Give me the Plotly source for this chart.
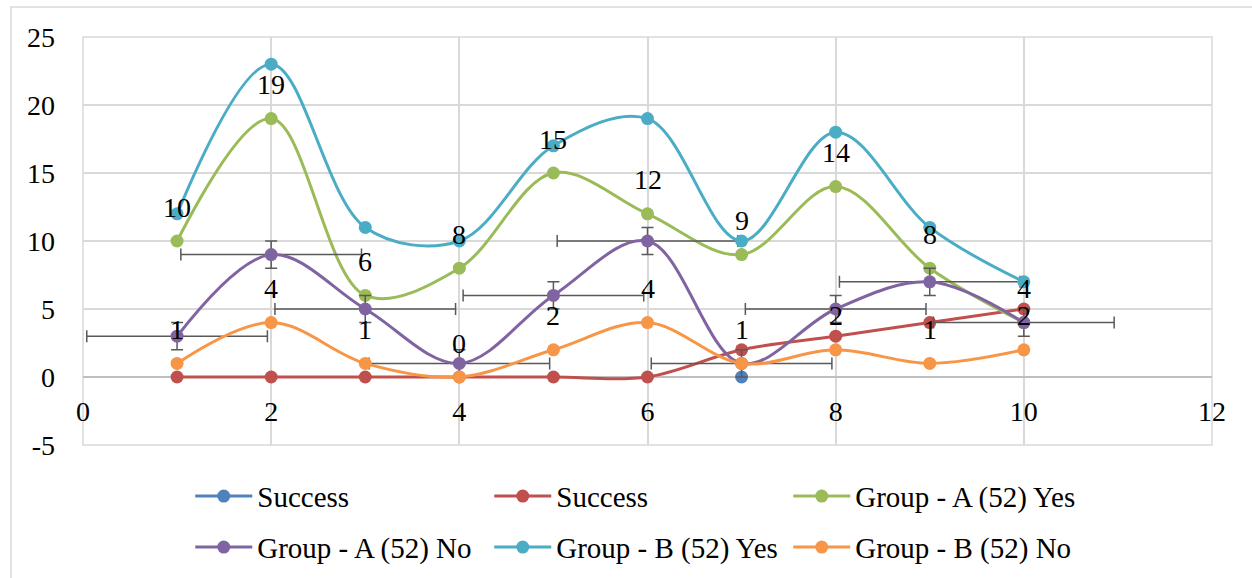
import plotly.graph_objects as go

# ---- data ----
x_vals = [1, 2, 3, 4, 5, 6, 7, 8, 9, 10]
success_blue_x = [7]
success_blue_y = [0]
success_red = [0, 0, 0, 0, 0, 0, 2, 3, 4, 5]
group_a_yes = [10, 19, 6, 8, 15, 12, 9, 14, 8, 4]
group_a_no = [3, 9, 5, 1, 6, 10, 1, 5, 7, 4]
group_b_yes = [12, 23, 11, 10, 17, 19, 10, 18, 11, 7]
group_b_no = [1, 4, 1, 0, 2, 4, 1, 2, 1, 2]
a_no_err_y = [1] * 10
a_no_err_x = [0.96] * 10
x_ticks = [0, 2, 4, 6, 8, 10, 12]
y_ticks = [-5, 0, 5, 10, 15, 20, 25]

FONT = "Liberation Serif"
GRID = "#d9d9d9"

fig = go.Figure()


def add_series(name, xs, ys, color, legend, **kw):
    fig.add_trace(go.Scatter(
        x=xs, y=ys, name=name, mode="lines+markers",
        line=dict(color=color, width=3, shape="spline", smoothing=1),
        marker=dict(color=color, size=13),
        legend=legend, **kw))


add_series("Success", success_blue_x, success_blue_y, "#4F81BD", "legend")
add_series("Success", x_vals, success_red, "#C0504D", "legend")
add_series("Group - A (52) Yes", x_vals, group_a_yes, "#9BBB59", "legend")
add_series("Group - A (52) No", x_vals, group_a_no, "#8064A2", "legend2",
           error_y=dict(type="data", array=a_no_err_y, color="#595959", thickness=1.5, width=6),
           error_x=dict(type="data", array=a_no_err_x, color="#595959", thickness=1.5, width=6))
add_series("Group - B (52) Yes", x_vals, group_b_yes, "#4BACC6", "legend2")
add_series("Group - B (52) No", x_vals, group_b_no, "#F79646", "legend2")

# data labels
for xv, yv in zip(x_vals, group_a_yes):
    fig.add_annotation(x=xv, y=yv, text=str(yv), showarrow=False, yshift=34,
                       font=dict(family=FONT, size=28, color="black"))
for xv, yv in zip(x_vals, group_b_no):
    fig.add_annotation(x=xv, y=yv, text=str(yv), showarrow=False, yshift=34,
                       font=dict(family=FONT, size=28, color="black"))

# plot area border and outer chart border
fig.add_shape(type="rect", xref="paper", yref="paper", x0=0, x1=1, y0=0, y1=1,
              line=dict(color=GRID, width=1.5), layer="below")
fig.add_shape(type="rect", xref="paper", yref="paper", x0=-0.0638, x1=1.05, y0=-0.36, y1=1.0735,
              line=dict(color=GRID, width=1.5), layer="below")

legend_common = dict(orientation="h", xanchor="left", yanchor="top",
                     font=dict(family=FONT, size=29, color="black"),
                     entrywidth=227, entrywidthmode="pixels", itemwidth=57,
                     bgcolor="rgba(0,0,0,0)", borderwidth=0)

fig.update_layout(
    width=1252, height=578,
    margin=dict(l=83, r=40, t=37, b=133, autoexpand=False),
    paper_bgcolor="white", plot_bgcolor="white",
    font=dict(family=FONT, size=28, color="black"),
    xaxis=dict(range=[0, 12], tickvals=x_ticks, ticktext=[str(v) for v in x_ticks],
               showgrid=True, gridcolor=GRID, gridwidth=1.5,
               zeroline=False, showline=False, anchor="free", position=1 / 6,
               ticks="", ticklabelstandoff=15, automargin=False,
               tickfont=dict(family=FONT, size=28, color="black")),
    yaxis=dict(range=[-5, 25], tickvals=y_ticks, ticktext=[str(v) for v in y_ticks],
               showgrid=True, gridcolor=GRID, gridwidth=1.5,
               zeroline=True, zerolinecolor="#bfbfbf", zerolinewidth=1.5, showline=False,
               ticks="", ticklabelstandoff=27, automargin=False,
               tickfont=dict(family=FONT, size=28, color="black")),
    legend=dict(x=0.095, y=-0.063, **legend_common),
    legend2=dict(x=0.095, y=-0.188, **legend_common),
    showlegend=True,
)

fig.write_html("out.html", config={"displayModeBar": False},
               post_script="document.body.style.margin='0';")
